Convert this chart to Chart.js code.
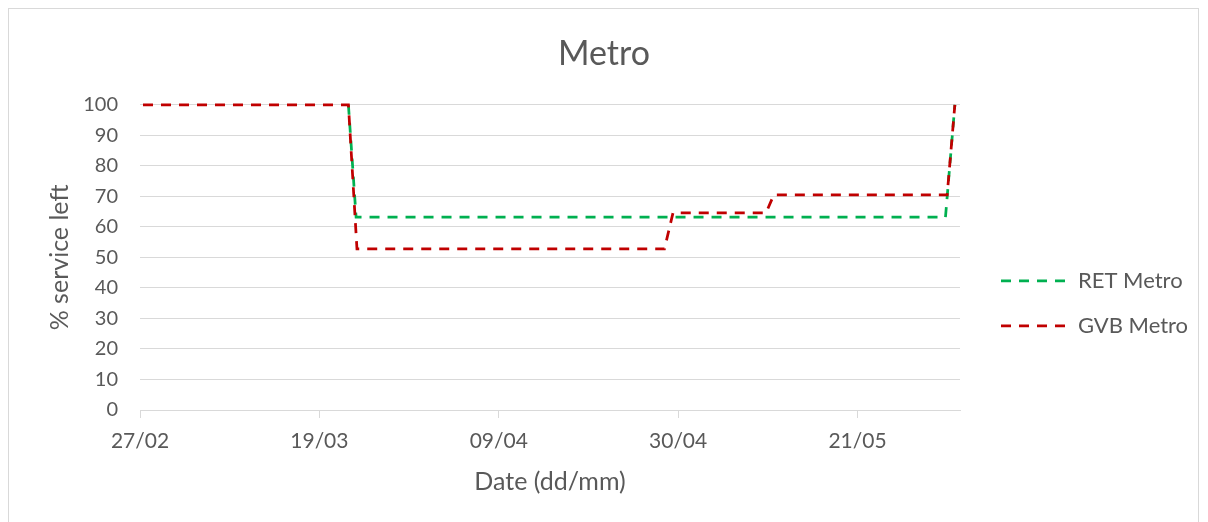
<!DOCTYPE html>
<html>
<head>
<meta charset="utf-8">
<script src="https://cdn.jsdelivr.net/npm/chart.js@4/dist/chart.umd.min.js"></script>
<style>
  body { margin: 0; background: #fff; }
  #wrap { position: relative; width: 1208px; height: 522px; }
  #frame { position: absolute; left: 8px; top: 8px; width: 1191px; height: 520px; border: 1px solid #d9d9d9; box-sizing: border-box; }
</style>
</head>
<body>
<div id="wrap">
  <canvas id="chart" width="1208" height="522"></canvas>
  <div id="frame"></div>
</div>
<script>
// days since 27/02 (x) and % service left (y)
const retDays = [0.35, 24.4, 25.3, 94.3, 95.4];
const retValues = [100, 100, 63.2, 63.2, 100];
const gvbDays = [0.35, 24.4, 25.4, 61.4, 62.4, 73.3, 74.2, 94.5, 95.4];
const gvbValues = [100, 100, 52.8, 52.8, 64.6, 64.6, 70.5, 70.5, 100];
const tickDays = [0, 21, 42, 63, 84];
const tickLabels = ['27/02', '19/03', '09/04', '30/04', '21/05'];

const grey = '#595959';
const font = 'Lato';
const dash = [10, 8];
const lineW = 2.75;

function toPoints(xs, ys) {
    return xs.map((x, i) => ({ x: x, y: ys[i] }));
}

// keep the legend width fixed and nudge it into place
const legendPlace = {
    id: 'legendPlace',
    afterInit(chart) {
        const lg = chart.legend;
        const fit = lg.fit;
        lg.fit = function () {
            fit.call(this);
            this.width = 248;
        };
        const draw = lg.draw;
        lg.draw = function () {
            const ctx = chart.ctx;
            ctx.save();
            ctx.translate(18, 46);
            draw.call(this);
            ctx.restore();
        };
    }
};

var ctx = document.querySelector('#chart').getContext('2d');
var myChart = new Chart(ctx, {
    type: 'line',
    data: {
        datasets: [{
            label: 'RET Metro',
            data: toPoints(retDays, retValues),
            borderColor: '#00B050',
            backgroundColor: '#00B050',
            borderWidth: lineW,
            borderDash: dash,
            pointRadius: 0,
            order: 1,
            clip: 8,
            // first stretch sits exactly under the GVB line
            segment: { borderColor: c => c.p0DataIndex === 0 ? 'rgba(0,0,0,0)' : undefined }
        }, {
            label: 'GVB Metro',
            data: toPoints(gvbDays, gvbValues),
            borderColor: '#C00000',
            backgroundColor: '#C00000',
            borderWidth: lineW,
            borderDash: dash,
            pointRadius: 0,
            order: 0,
            clip: 8
        }]
    },
    plugins: [legendPlace],
    options: {
        responsive: false,
        animation: false,
        layout: { padding: 0 },
        plugins: {
            title: {
                display: true,
                text: 'Metro',
                color: grey,
                font: { family: font, size: 34, weight: 'normal' },
                padding: { top: 34, bottom: 30 }
            },
            legend: {
                position: 'right',
                fullSize: false,
                labels: {
                    color: grey,
                    font: { family: font, size: 22 },
                    usePointStyle: true,
                    pointStyle: 'line',
                    pointStyleWidth: 66,
                    boxWidth: 66,
                    padding: 23,
                    sort: (a, b) => a.datasetIndex - b.datasetIndex,
                    generateLabels: (chart) => {
                        const items = Chart.defaults.plugins.legend.labels.generateLabels(chart);
                        items.forEach(it => {
                            const ds = chart.data.datasets[it.datasetIndex];
                            it.lineDash = dash;
                            it.lineWidth = lineW;
                            it.strokeStyle = ds.borderColor;
                            it.pointStyle = 'line';
                        });
                        return items;
                    }
                }
            },
            tooltip: { enabled: false }
        },
        scales: {
            x: {
                type: 'linear',
                min: 0,
                max: 96,
                afterBuildTicks: (scale) => {
                    scale.ticks = tickDays.map(v => ({ value: v }));
                },
                afterFit: (scale) => { scale.height = 112; },
                ticks: {
                    color: grey,
                    font: { family: font, size: 21 },
                    padding: 11,
                    maxRotation: 0,
                    autoSkip: false,
                    callback: (v) => tickLabels[tickDays.indexOf(v)]
                },
                grid: { drawOnChartArea: false, drawTicks: true, tickLength: 8, color: '#d9d9d9' },
                border: { display: true, color: '#d9d9d9' },
                title: {
                    display: true,
                    text: 'Date (dd/mm)',
                    color: grey,
                    font: { family: font, size: 25 },
                    padding: { top: 8, bottom: 25 }
                }
            },
            y: {
                min: 0,
                max: 100,
                afterFit: (scale) => { scale.width = 140; },
                ticks: {
                    stepSize: 10,
                    color: grey,
                    font: { family: font, size: 20 },
                    padding: 22
                },
                grid: { color: '#d9d9d9', drawTicks: false },
                border: { display: false },
                title: {
                    display: true,
                    text: '% service left',
                    color: grey,
                    font: { family: font, size: 25 },
                    padding: { top: 45, bottom: 0 }
                }
            }
        }
    }
});
</script>
</body>
</html>
